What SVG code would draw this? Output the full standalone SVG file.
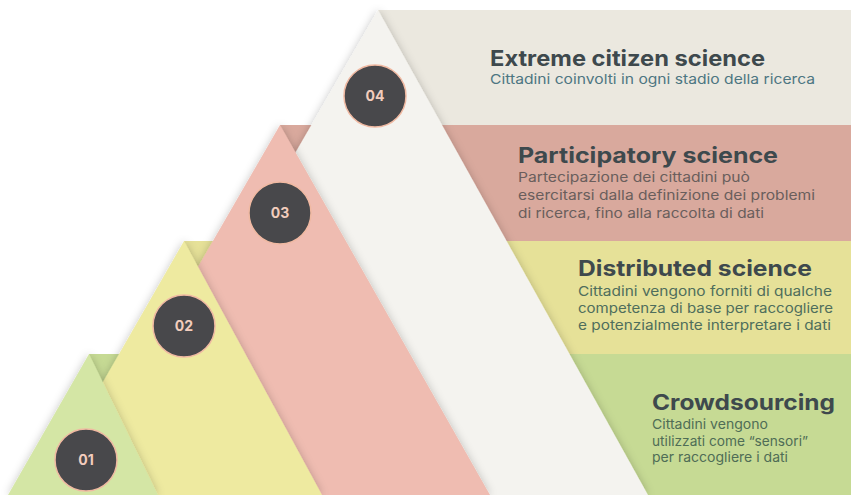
<svg xmlns="http://www.w3.org/2000/svg" width="851" height="495" viewBox="0 0 851 495">
<defs>
<style>
.t{font-family:Inter,"Liberation Sans",Arial,sans-serif;font-weight:700;font-size:21.5px;fill:#3e494d}
.s{font-family:Inter,"Liberation Sans",Arial,sans-serif;font-weight:400;font-size:13.5px}
.n{font-family:Inter,"Liberation Sans",Arial,sans-serif;font-weight:700;font-size:14px;fill:#f3cdbd;text-anchor:middle}
.c{fill:#48484b;stroke:#f0b9a2;stroke-width:1.5}
</style>
<filter id="sh" x="-20%" y="-20%" width="140%" height="140%">
<feDropShadow dx="0" dy="0" stdDeviation="4" flood-color="#000" flood-opacity="0.22"/>
</filter>
</defs>
<rect width="851" height="495" fill="#ffffff"/>
<g id="bands">
<rect x="378" y="10" width="473" height="115" fill="#ebe8df"/>
<rect x="280" y="125" width="571" height="116" fill="#d9a99d"/>
<rect x="184" y="241" width="667" height="114" fill="#e6e198"/>
<rect x="89" y="354" width="762" height="141" fill="#c6da94"/>
</g>
<g id="level4">
<polygon points="378,10 97,495 648,495" fill="#f4f3ef" filter="url(#sh)"/>
</g>
<g id="level3">
<polygon points="280,125 66,495 490,495" fill="#efbcb1" filter="url(#sh)"/>
</g>
<g id="level2">
<polygon points="184,241 38,495 322,495" fill="#eeeaa0" filter="url(#sh)"/>
</g>
<g id="level1">
<polygon points="89,354 8,495 158,495" fill="#d4e6a5" filter="url(#sh)"/>
</g>
<g id="connectors"></g>
<g id="badge4"><circle class="c" cx="375" cy="96" r="31"/><text class="n" x="375" y="101">04</text></g>
<g id="badge3"><circle class="c" cx="280" cy="213" r="31"/><text class="n" x="280" y="218">03</text></g>
<g id="badge2"><circle class="c" cx="184" cy="326" r="31"/><text class="n" x="184" y="331">02</text></g>
<g id="badge1"><circle class="c" cx="86" cy="460" r="31"/><text class="n" x="86" y="465">01</text></g>
<g id="text4">
<text class="t" x="490" y="66" textLength="275" lengthAdjust="spacingAndGlyphs">Extreme citizen science</text>
<text class="s" x="490" y="83.5" fill="#4d7682" textLength="325" lengthAdjust="spacingAndGlyphs">Cittadini coinvolti in ogni stadio della ricerca</text>
</g>
<g id="text3">
<text class="t" x="518" y="163" textLength="260" lengthAdjust="spacingAndGlyphs">Participatory science</text>
<text class="s" x="518" y="182" fill="#6a5e5c" textLength="232" lengthAdjust="spacingAndGlyphs">Partecipazione dei cittadini può</text>
<text class="s" x="518" y="200" fill="#6a5e5c" textLength="297" lengthAdjust="spacingAndGlyphs">esercitarsi dalla definizione dei problemi</text>
<text class="s" x="518" y="218" fill="#6a5e5c" textLength="246" lengthAdjust="spacingAndGlyphs">di ricerca, fino alla raccolta di dati</text>
</g>
<g id="text2">
<text class="t" x="578" y="276" textLength="234" lengthAdjust="spacingAndGlyphs">Distributed science</text>
<text class="s" x="578" y="295.5" fill="#4f6e5c" textLength="254" lengthAdjust="spacingAndGlyphs">Cittadini vengono forniti di qualche</text>
<text class="s" x="578" y="312.5" fill="#4f6e5c" textLength="255" lengthAdjust="spacingAndGlyphs">competenza di base per raccogliere</text>
<text class="s" x="578" y="329.5" fill="#4f6e5c" textLength="253" lengthAdjust="spacingAndGlyphs">e potenzialmente interpretare i dati</text>
</g>
<g id="text1">
<text class="t" x="652" y="410" textLength="183" lengthAdjust="spacingAndGlyphs">Crowdsourcing</text>
<text class="s" x="652" y="428.5" fill="#4f6d56" textLength="116" lengthAdjust="spacingAndGlyphs">Cittadini vengono</text>
<text class="s" x="652" y="445.5" fill="#4f6d56" textLength="156" lengthAdjust="spacingAndGlyphs">utilizzati come “sensori”</text>
<text class="s" x="652" y="462" fill="#4f6d56" textLength="136" lengthAdjust="spacingAndGlyphs">per raccogliere i dati</text>
</g>
</svg>
